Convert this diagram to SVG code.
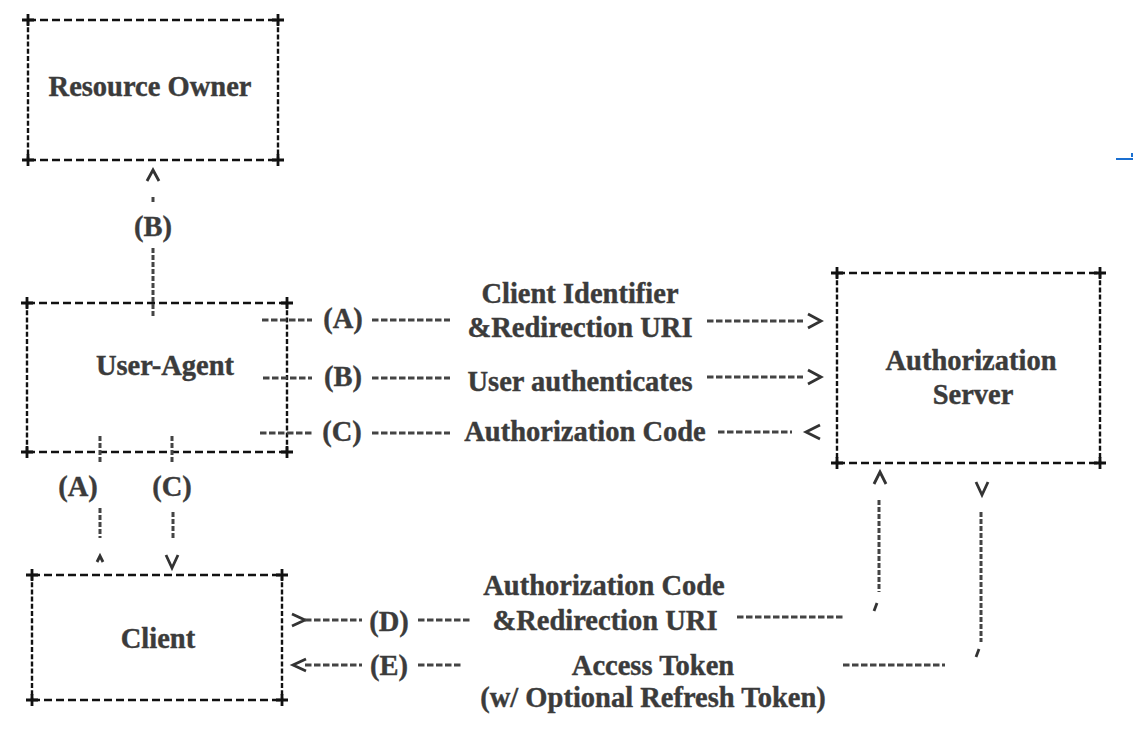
<svg xmlns="http://www.w3.org/2000/svg" width="1133" height="737" viewBox="0 0 1133 737">
<style>
.bh{stroke:#111;stroke-width:2.4;stroke-dasharray:8 4;fill:none}
.bv{stroke:#111;stroke-width:2.4;stroke-dasharray:5 2.2;fill:none}
.pl{stroke:#111;stroke-width:2.8;fill:none}
.ch{stroke:#444;stroke-width:3;stroke-dasharray:6.5 2.5;fill:none}
.cv{stroke:#444;stroke-width:3;stroke-dasharray:5 2;fill:none}
.ah{stroke:#333;stroke-width:2.8;fill:none;stroke-linejoin:miter}
.t{font-family:"Liberation Serif",serif;font-weight:bold;font-size:28.5px;fill:#3b3b3b;stroke:#3b3b3b;stroke-width:0.4;text-anchor:middle}
</style>
<defs>
<path id="plus" d="M-6,0H6M0,-6V6" class="pl"/>
</defs>
<rect width="1133" height="737" fill="#fff"/>

<g id="resource-owner">
<path class="bh" d="M28,20H278M28,160H278"/>
<path class="bv" d="M28,20V160M278,20V160"/>
<use href="#plus" x="28" y="20"/><use href="#plus" x="278" y="20"/><use href="#plus" x="28" y="160"/><use href="#plus" x="278" y="160"/>
<text class="t" x="150" y="96">Resource Owner</text>
</g>

<g id="user-agent">
<path class="bh" d="M27,303H287M27,452H287"/>
<path class="bv" d="M27,303V452M287,303V452"/>
<use href="#plus" x="27" y="303"/><use href="#plus" x="287" y="303"/><use href="#plus" x="27" y="452"/><use href="#plus" x="287" y="452"/>
<text class="t" x="165" y="375">User-Agent</text>
</g>

<g id="authorization-server">
<path class="bh" d="M837,273H1100M837,463H1100"/>
<path class="bv" d="M837,273V463M1100,273V463"/>
<use href="#plus" x="837" y="273"/><use href="#plus" x="1100" y="273"/><use href="#plus" x="837" y="463"/><use href="#plus" x="1100" y="463"/>
<text class="t" x="971" y="370">Authorization</text>
<text class="t" x="973" y="404">Server</text>
</g>

<g id="client">
<path class="bh" d="M32,575H282M32,700H282"/>
<path class="bv" d="M32,575V700M282,575V700"/>
<use href="#plus" x="32" y="575"/><use href="#plus" x="282" y="575"/><use href="#plus" x="32" y="700"/><use href="#plus" x="282" y="700"/>
<text class="t" x="158" y="648">Client</text>
</g>

<g id="connectors">
<!-- B: user-agent to resource owner -->
<path class="ah" d="M147,181L153,170L159,181"/>
<path class="cv" d="M153,197V204"/>
<text class="t" x="153" y="236">(B)</text>
<path class="cv" d="M153,248V318"/>

<!-- A row -->
<path class="ch" d="M262,320H312M372,320H450M707,321H803"/>
<path class="ah" d="M808,314L821,321L808,328"/>
<text class="t" x="343" y="328">(A)</text>
<text class="t" x="580" y="303">Client Identifier</text>
<text class="t" x="580" y="337">&amp;Redirection URI</text>

<!-- B row -->
<path class="ch" d="M263,378H312M372,378H450M707,377H803"/>
<path class="ah" d="M808,370L821,377L808,384"/>
<text class="t" x="343" y="386">(B)</text>
<text class="t" x="580" y="391">User authenticates</text>

<!-- C row -->
<path class="ch" d="M260,433H312M372,433H450M718,432H792"/>
<path class="ah" d="M820,425L806,432L820,439"/>
<text class="t" x="342" y="441">(C)</text>
<text class="t" x="585" y="441">Authorization Code</text>

<!-- user-agent to client -->
<path class="cv" d="M100,436V462M172,436V462"/>
<text class="t" x="78" y="496">(A)</text>
<text class="t" x="172" y="496">(C)</text>
<path class="cv" d="M100,508V538M173,512V538"/>
<path class="ah" stroke-width="1.8" d="M97,562L100,556L103,562"/>
<path class="ah" d="M166,555L172,568L178,555"/>

<!-- D row -->
<path class="ah" d="M292,614L305,620L292,626"/>
<path class="ch" d="M305,620H362M418,620H470M737,617H843"/>
<text class="t" x="389" y="631">(D)</text>
<text class="t" x="604" y="595">Authorization Code</text>
<text class="t" x="605" y="630">&amp;Redirection URI</text>
<path class="cv" d="M879,500V592"/>
<path class="ah" d="M877,603L874,611"/>
<path class="ah" d="M874,484L880,472L886,484"/>

<!-- E row -->
<path class="ah" d="M306,659L293,665L306,671"/>
<path class="ch" d="M305,665H362M418,665H462M843,665H945"/>
<text class="t" x="389" y="675">(E)</text>
<text class="t" x="653" y="675">Access Token</text>
<text class="t" x="653" y="707">(w/ Optional Refresh Token)</text>
<path class="cv" d="M981,512V642"/>
<path class="ah" d="M979,649L976,657"/>
<path class="ah" d="M976,482L982,495L988,482"/>
</g>

<path d="M1116,159H1133M1132,153V157" stroke="#1a6fd1" stroke-width="2" fill="none"/>
</svg>
